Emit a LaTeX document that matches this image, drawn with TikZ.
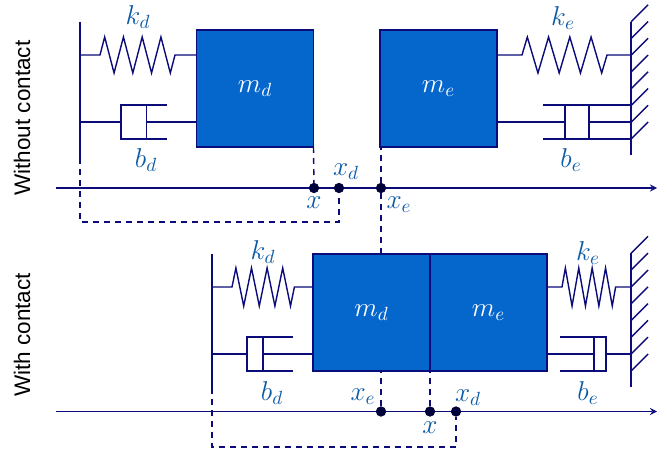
\RequirePackage{fix-cm}
\documentclass[tikz,border=0pt]{standalone}
\usepackage{fontspec}
\setsansfont{Liberation Sans}
\usetikzlibrary{decorations.pathmorphing}
\definecolor{linenavy}{HTML}{0B0B7A}
\definecolor{massblue}{HTML}{0566CC}
\definecolor{labelblue}{HTML}{0B5AA5}
\definecolor{dotnavy}{HTML}{00003A}
\tikzset{
  lnk/.style={draw=linenavy, line width=.8pt},
  dashlnk/.style={lnk, dash pattern=on .12cm off .1cm},
  massbox/.style={lnk, fill=massblue, text=white, inner sep=0pt, outer sep=0pt, minimum width=2.34cm, minimum height=2.34cm, font=\fontsize{15.5}{18}\selectfont},
  cylbox/.style={lnk, inner sep=0pt, outer sep=0pt, minimum height=.68cm},
  dotmark/.style={circle, fill=dotnavy, draw=dotnavy, inner sep=0pt, minimum size=.19cm},
  lab/.style={text=labelblue, inner sep=0pt, font=\fontsize{15.5}{18}\selectfont},
  sidelab/.style={rotate=90, text=black, inner sep=0pt, font=\sffamily\fontsize{12.8}{15}\selectfont}
}
\begin{document}
\begin{tikzpicture}
  \useasboundingbox (0,0) rectangle (13.14,9);

  % Without contact
  \node[massbox] (md1) at (5.1,7.23) {$m_d$};
  \node[massbox] (me1) at (8.77,7.23) {$m_e$};
  \coordinate (wd1t) at (1.6,8.56);
  \coordinate (wd1b) at (1.6,5.84);
  \coordinate (we1t) at (12.62,8.56);
  \coordinate (we1b) at (12.62,5.9);
  \draw[lnk] (wd1t) -- (wd1b);
  \draw[lnk] (we1t) -- (we1b);
  \foreach \y in {6.22,6.555,6.89,7.225,7.56,7.895,8.23,8.565}
    \draw[lnk] (12.62,\y) -- ++(.34,.34);

  % Springs
  \coordinate (sd1) at (1.6,7.9);
  \coordinate (se1) at (12.62,7.9);
  \draw[lnk, decorate, decoration={zigzag, segment length=.375cm, amplitude=.36cm, pre length=.4cm, post length=.42cm}] (sd1) -- (sd1 -| md1.west);
  \draw[lnk, decorate, decoration={zigzag, segment length=.425cm, amplitude=.36cm, pre length=.5cm, post length=.46cm}] (se1 -| me1.east) -- (se1);

  % Dampers
  \node[cylbox, minimum width=.51cm] (cd1) at (2.675,6.56) {};
  \draw[lnk] (cd1.west -| wd1t) -- (cd1.west);
  \draw[lnk] (cd1.east) -- (cd1.east -| md1.west);
  \draw[lnk] (cd1.north east) -- ++(.41,0);
  \draw[lnk] (cd1.south east) -- ++(.41,0);
  \node[cylbox, minimum width=.48cm] (ce1) at (11.54,6.56) {};
  \draw[lnk] (ce1.west -| me1.east) -- (ce1.west);
  \draw[lnk] (ce1.east) -- (ce1.east -| we1t);
  \draw[lnk] (10.86,6.9) -- (ce1.north west);
  \draw[lnk] (10.86,6.22) -- (ce1.south west);
  \draw[lnk] (ce1.north east) -- (ce1.north east -| we1t);
  \draw[lnk] (ce1.south east) -- (ce1.south east -| we1t);

  % Axis and marks
  \coordinate (ax1l) at (1.12,5.24);
  \coordinate (ax1r) at (13.14,5.24);
  \draw[lnk, -stealth] (ax1l) -- (ax1r);
  \node[dotmark] (xa1) at (6.28,5.24) {};
  \node[dotmark] (xd1) at (6.78,5.24) {};
  \node[dotmark] (xe1) at (7.62,5.24) {};
  \coordinate (lp1) at (1.6,4.56);

  % With contact
  \node[massbox] (md2) at (7.43,2.75) {$m_d$};
  \node[massbox] (me2) at (9.77,2.75) {$m_e$};
  \coordinate (wd2t) at (4.24,3.92);
  \coordinate (wd2b) at (4.24,1.24);
  \coordinate (we2t) at (12.62,3.94);
  \coordinate (we2b) at (12.62,1.26);
  \draw[lnk] (wd2t) -- (wd2b);
  \draw[lnk] (we2t) -- (we2b);
  \foreach \y in {1.58,1.916,2.252,2.588,2.924,3.26,3.596,3.932}
    \draw[lnk] (12.62,\y) -- ++(.34,.34);

  \coordinate (sd2) at (4.24,3.26);
  \coordinate (se2) at (12.62,3.26);
  \draw[lnk, decorate, decoration={zigzag, segment length=.312cm, amplitude=.38cm, pre length=.4cm, post length=.36cm}] (sd2) -- (sd2 -| md2.west);
  \draw[lnk, decorate, decoration={zigzag, segment length=.268cm, amplitude=.38cm, pre length=.3cm, post length=.3cm}] (se2 -| me2.east) -- (se2);

  \node[cylbox, minimum width=.32cm] (cd2) at (5.1,1.92) {};
  \draw[lnk] (cd2.west -| wd2t) -- (cd2.west);
  \draw[lnk] (cd2.east) -- (cd2.east -| md2.west);
  \draw[lnk] (cd2.north east) -- ++(.6,0);
  \draw[lnk] (cd2.south east) -- ++(.6,0);
  \node[cylbox, minimum width=.24cm] (ce2) at (12,1.92) {};
  \draw[lnk] (ce2.west -| me2.east) -- (ce2.west);
  \draw[lnk] (ce2.east) -- (ce2.east -| we2t);
  \draw[lnk] (11.2,2.26) -- (ce2.north west);
  \draw[lnk] (11.2,1.58) -- (ce2.south west);

  \coordinate (ax2l) at (1.12,.77);
  \coordinate (ax2r) at (13.14,.77);
  \draw[lnk, -stealth] (ax2l) -- (ax2r);
  \node[dotmark] (xe2) at (7.62,.77) {};
  \node[dotmark] (xa2) at (8.6,.77) {};
  \node[dotmark] (xd2) at (9.12,.77) {};
  \coordinate (lp2) at (4.24,.06);

  % Dashed links
  \draw[dashlnk] (md1.south east) -- (xa1);
  \draw[dashlnk] (xe1) -- (xe1 |- me1.south);
  \draw[dashlnk] (xe1) -- (xe1 |- md2.north);
  \draw[dashlnk] (wd1b) -- (lp1) -- (lp1 -| xd1) -- (xd1);
  \draw[dashlnk] (wd2b) -- (lp2) -- (lp2 -| xd2) -- (xd2);
  \draw[dashlnk] (xe2) -- (xe2 |- md2.south);
  \draw[dashlnk] (xa2) -- (xa2 |- me2.south);

  % Labels
  \node[lab] (kd1) at (2.76,8.66) {$k_d$};
  \node[lab] (bd1) at (2.92,5.8) {$b_d$};
  \node[lab] (ke1) at (11.26,8.64) {$k_e$};
  \node[lab] (be1) at (11.42,5.8) {$b_e$};
  \node[lab] (lx1) at (6.28,4.94) {$x$};
  \node[lab] (lxd1) at (6.92,5.56) {$x_d$};
  \node[lab] (lxe1) at (7.98,4.9) {$x_e$};
  \node[lab] (kd2) at (5.26,3.96) {$k_d$};
  \node[lab] (bd2) at (5.44,1.14) {$b_d$};
  \node[lab] (ke2) at (11.76,3.94) {$k_e$};
  \node[lab] (be2) at (11.76,1.14) {$b_e$};
  \node[lab] (lxe2) at (7.26,1.06) {$x_e$};
  \node[lab] (lx2) at (8.6,.44) {$x$};
  \node[lab] (lxd2) at (9.36,1.04) {$x_d$};
  \node[sidelab] (wo) at (.44,6.64) {Without contact};
  \node[sidelab] (wi) at (.44,2.3) {With contact};
\end{tikzpicture}
\end{document}
